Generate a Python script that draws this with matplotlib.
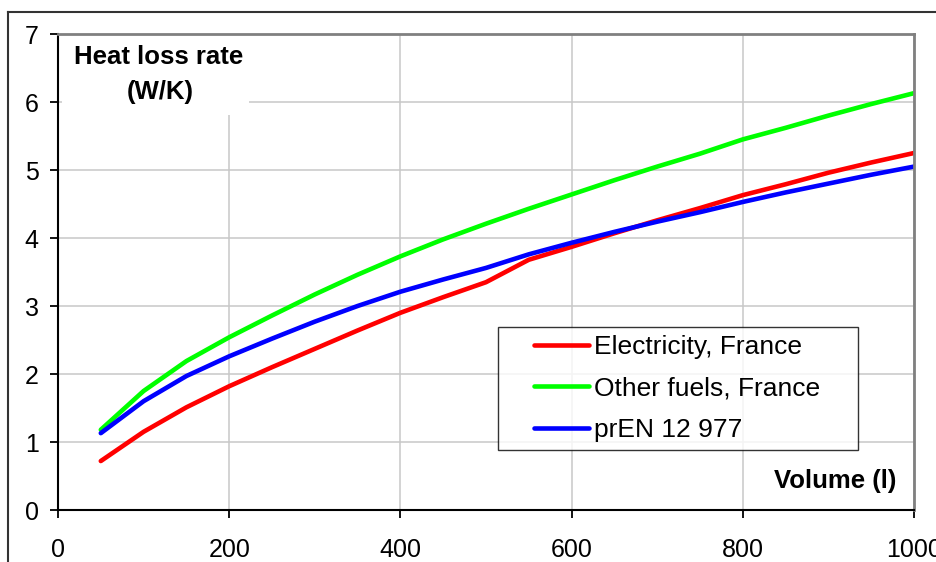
import matplotlib
matplotlib.use("Agg")
import numpy as np
import matplotlib.pyplot as plt
from matplotlib.patches import Rectangle
from matplotlib.lines import Line2D
from matplotlib.legend_handler import HandlerLine2D

plt.rcParams['font.family'] = ['Liberation Sans', 'DejaVu Sans']

volume = [50, 100, 150, 200, 250, 300, 350, 400, 450, 500,
          550, 600, 650, 700, 750, 800, 850, 900, 950, 1000]
electricity = [0.72, 1.15, 1.51, 1.82, 2.10, 2.37, 2.64, 2.90, 3.13, 3.35,
               3.68, 3.87, 4.07, 4.26, 4.44, 4.63, 4.79, 4.96, 5.11, 5.25]
other_fuels = [1.18, 1.75, 2.19, 2.54, 2.86, 3.17, 3.46, 3.73, 3.98, 4.21,
               4.43, 4.64, 4.85, 5.05, 5.24, 5.45, 5.62, 5.80, 5.97, 6.13]
pren = [1.13, 1.60, 1.97, 2.26, 2.52, 2.77, 3.00, 3.21, 3.39, 3.56,
        3.76, 3.93, 4.09, 4.24, 4.38, 4.53, 4.67, 4.80, 4.93, 5.05]
series_names = ["Electricity, France", "Other fuels, France", "prEN 12 977"]
series_colors = ["#ff0000", "#00ff00", "#0000ff"]
x_ticks = [0, 200, 400, 600, 800, 1000]
y_ticks = [0, 1, 2, 3, 4, 5, 6, 7]


class ShiftedLineHandler(HandlerLine2D):
    """Legend line drawn only on the right part of the handle box."""
    def get_xdata(self, legend, xdescent, ydescent, width, height, fontsize):
        xd = np.array([-xdescent + width * 0.34, -xdescent + width])
        return xd, xd


fig = plt.figure(figsize=(9.37, 5.62), dpi=100)
ax = fig.add_axes([58/937, 1 - 510/562, (914 - 58)/937, (510 - 34)/562])

ax.set_xlim(0, 1000)
ax.set_ylim(0, 7)
ax.set_xticks(x_ticks)
ax.set_yticks(y_ticks)
ax.grid(True, color="#c8c8c8", linewidth=1.1, zorder=0)
ax.set_axisbelow(True)
ax.tick_params(labelsize=18, length=6, width=1.3, direction='out', colors='black')
ax.tick_params(axis='x', pad=14)
ax.tick_params(axis='y', pad=8)

for sp in ['left', 'bottom']:
    ax.spines[sp].set_color('black')
    ax.spines[sp].set_linewidth(1.5)
for sp in ['top', 'right']:
    ax.spines[sp].set_color('#808080')
    ax.spines[sp].set_linewidth(2.0)

# white box behind the y-title
ax.add_patch(Rectangle((4/856, 1 - 81/476), (249 - 62)/856, 81/476,
                       transform=ax.transAxes, facecolor='white',
                       edgecolor='none', zorder=1.5))
ax.text((159 - 58)/856, 1 - 23/476, "Heat loss rate", transform=ax.transAxes,
        ha='center', va='center', fontsize=18.5, fontweight='bold', zorder=3)
ax.text((160 - 58)/856, 1 - 58/476, "(W/K)", transform=ax.transAxes,
        ha='center', va='center', fontsize=18.5, fontweight='bold', zorder=3)
ax.text((896 - 58)/856, (510 - 481)/476, "Volume (l)", transform=ax.transAxes,
        ha='right', va='center', fontsize=18.5, fontweight='bold', zorder=3)

for ys, name, c in zip([electricity, other_fuels, pren], series_names, series_colors):
    ax.plot(volume, ys, color=c, linewidth=3.3, label=name,
            solid_capstyle='round', solid_joinstyle='round', zorder=2)

lx0, lx1 = (498 - 58)/856, (858 - 58)/856
ly0, ly1 = (510 - 450)/476, (510 - 327)/476
leg = ax.legend(loc='upper left', bbox_to_anchor=(lx0, ly0, lx1 - lx0, ly1 - ly0),
                mode='expand', fontsize=19, frameon=True, fancybox=False,
                edgecolor='black', handlelength=3.15, handletextpad=0.18,
                labelspacing=0.66, borderpad=0.3, borderaxespad=0,
                handler_map={Line2D: ShiftedLineHandler()})
leg.get_frame().set_linewidth(1.0)
leg.set_zorder(4)

# outer frame lines
fig.add_artist(Line2D([8/937, 1], [1 - 12/562, 1 - 12/562], color='#333333',
                      linewidth=1.5, transform=fig.transFigure))
fig.add_artist(Line2D([8/937, 8/937], [0, 1 - 12/562], color='#333333',
                      linewidth=1.5, transform=fig.transFigure))

fig.savefig("out.png", dpi=100)
